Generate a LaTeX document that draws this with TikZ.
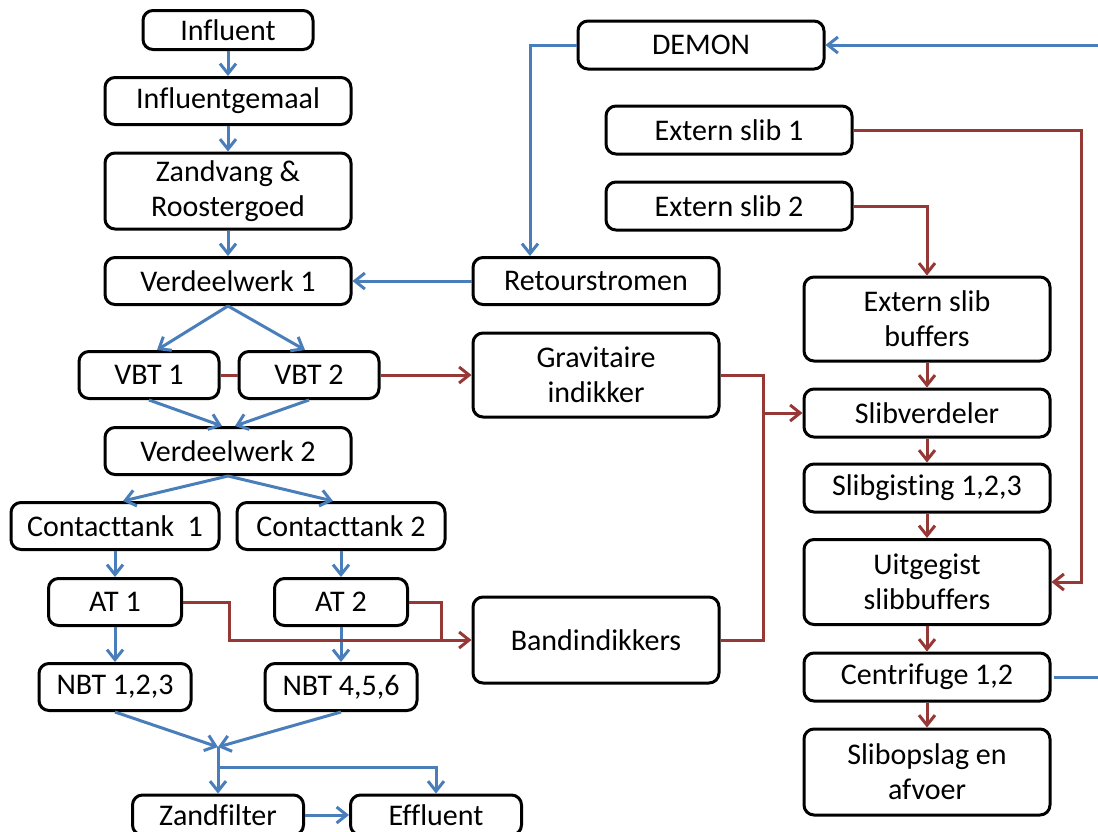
\documentclass[tikz,border=0pt]{standalone}
\usepackage{fontspec}
\newfontfamily\diagfont{Carlito}[Ligatures=NoCommon]
\usetikzlibrary{arrows.meta}
\definecolor{flowblue}{RGB}{74,126,187}
\definecolor{sludgered}{RGB}{150,56,54}

\tikzset{
  unit/.style={draw=black, line width=3pt, rounded corners=10pt, inner sep=0pt,
    align=center, font=\diagfont\fontsize{30}{35}\selectfont,
    minimum height=47pt, minimum width=246pt},
  water/.style={draw=flowblue, line width=3pt},
  sludge/.style={draw=sludgered, line width=3pt},
  flow/.style={-{Straight Barb[length=10pt,width=16pt]}},
}

\begin{document}
\begin{tikzpicture}[x=1pt,y=-1pt]
\path[use as bounding box] (0,0) rectangle (1098,831);
\clip (0,0) rectangle (1098,831);

% water line
\node[unit, minimum width=170pt, minimum height=39pt] (influent) at (228,30) {Influent};
\node[unit] (gemaal) at (228,101) {Influentgemaal};
\node[unit, minimum height=76pt] (zand) at (228,191) {Zandvang \&\\Roostergoed};
\node[unit] (vw1) at (228,281) {Verdeelwerk 1};
\node[unit, minimum width=140pt] (vbt1) at (149,375) {VBT 1};
\node[unit, minimum width=140pt] (vbt2) at (309,375) {VBT 2};
\node[unit] (vw2) at (228,451) {Verdeelwerk 2};
\node[unit, minimum width=208pt] (ct1) at (115,526) {Contacttank\ \ 1};
\node[unit, minimum width=208pt] (ct2) at (341,526) {Contacttank 2};
\node[unit, minimum width=133pt] (at1) at (115,602) {AT 1};
\node[unit, minimum width=133pt] (at2) at (341,602) {AT 2};
\node[unit, minimum width=152pt] (nbt1) at (115,687) {NBT 1,2,3};
\node[unit, minimum width=152pt] (nbt2) at (341,687) {NBT 4,5,6};
\node[unit, minimum width=171pt, minimum height=40pt] (zf) at (218,815) {Zandfilter};
\node[unit, minimum width=171pt, minimum height=40pt] (eff) at (436,815) {Effluent};

% sludge line and side streams
\node[unit, minimum height=48pt] (demon) at (701,45) {DEMON};
\node[unit, minimum height=48pt] (es1) at (729,130) {Extern slib 1};
\node[unit, minimum height=48pt] (es2) at (729,206) {Extern slib 2};
\node[unit] (retour) at (596,281) {Retourstromen};
\node[unit, minimum height=84pt] (grav) at (596,375) {Gravitaire\\indikker};
\node[unit, minimum height=86pt] (band) at (596,640) {Bandindikkers};
\node[unit, minimum height=84pt] (esb) at (927,319) {Extern slib\\buffers};
\node[unit, minimum height=48pt] (slibv) at (927,413) {Slibverdeler};
\node[unit, minimum height=48pt] (gist) at (927,488) {Slibgisting 1,2,3};
\node[unit, minimum height=85pt] (uit) at (927,582) {Uitgegist\\slibbuffers};
\node[unit, minimum height=48pt] (cent) at (927,677) {Centrifuge 1,2};
\node[unit, minimum height=86pt] (opslag) at (927,772) {Slibopslag en\\afvoer};

% free ends and junctions
\coordinate (join) at (218,747);
\coordinate (split) at (218,767);
\coordinate (demonin) at (1098,45);
\coordinate (centout) at (1098,677);
\coordinate (atjoin) at (441,640);
\coordinate (bus) at (763,413);

% water connectors
\draw[water, flow] (influent) -- (gemaal);
\draw[water, flow] (gemaal) -- (zand);
\draw[water, flow] (zand) -- (vw1);
\draw[water, flow] (vw1.south) -- ([xshift=8pt]vbt1.north);
\draw[water, flow] (vw1.south) -- ([xshift=-4pt]vbt2.north);
\draw[water, flow] (vbt1.south) -- ([xshift=-6pt]vw2.north);
\draw[water, flow] (vbt2.south) -- ([xshift=7pt]vw2.north);
\draw[water, flow] (vw2.south) -- ([xshift=8pt]ct1.north);
\draw[water, flow] (vw2.south) -- ([xshift=-8pt]ct2.north);
\draw[water, flow] (ct1) -- (at1);
\draw[water, flow] (ct2) -- (at2);
\draw[water, flow] (at1) -- (nbt1);
\draw[water, flow] (at2) -- (nbt2);
\draw[water, flow] (nbt1.south) -- (join);
\draw[water, flow] (nbt2.south) -- (join);
\draw[water, flow] (join) -- (zf.north);
\draw[water, flow] (split) -| (eff.north);
\draw[water, flow] (zf.east) -- (eff.west);
\draw[water, flow] (retour) -- (vw1);
\draw[water, flow] (demon.west) -| ([xshift=-66pt]retour.north);
\draw[water, flow] (demonin) -- (demon.east);
\draw[water, shorten <=2pt] (cent.east) -- (centout);

% sludge connectors
\draw[sludge] (vbt1) -- (vbt2);
\draw[sludge, flow] (vbt2) -- (grav);
\draw[sludge, flow] (at1.east) -- ++(46,0) |- (band.west);
\draw[sludge] (at2.east) -| (atjoin);
\draw[sludge] (grav.east) -| (bus);
\draw[sludge] (band.east) -| (bus);
\draw[sludge, flow] (bus) -- (slibv.west);
\draw[sludge, flow] (es1.east) -- ++(228,0) |- (uit.east);
\draw[sludge, flow] (es2.east) -| (esb.north);
\draw[sludge, flow] (esb) -- (slibv);
\draw[sludge, flow] (slibv) -- (gist);
\draw[sludge, flow] (gist) -- (uit);
\draw[sludge, flow] (uit) -- (cent);
\draw[sludge, flow] (cent) -- (opslag);
\end{tikzpicture}
\end{document}
